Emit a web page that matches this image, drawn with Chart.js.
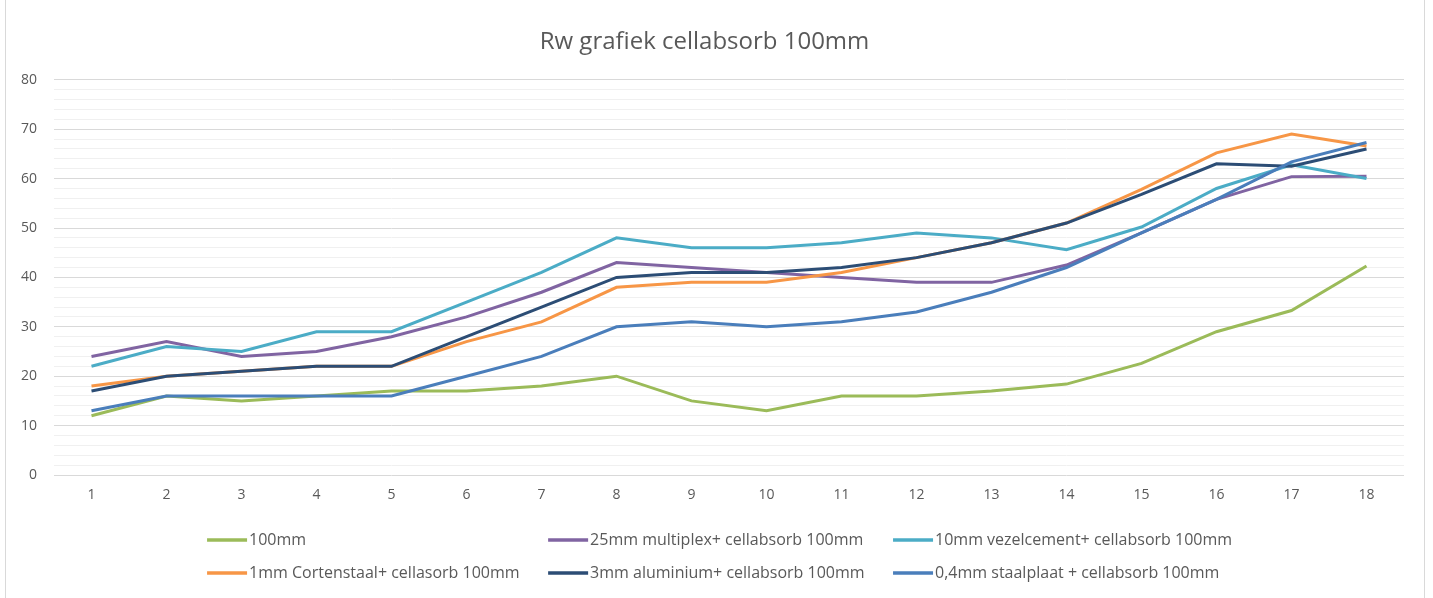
<!DOCTYPE html>
<html>
<head>
<meta charset="utf-8">
<script src="https://cdn.jsdelivr.net/npm/chart.js@4"></script>
<style>
  html, body { margin: 0; padding: 0; background: #fff; }
  #wrap { position: relative; width: 1433px; height: 598px; }
  #wrap:before, #wrap:after { content: ''; position: absolute; top: 0; bottom: 0; width: 1px; background: #d9d9d9; }
  #wrap:before { left: 5px; }
  #wrap:after { left: 1424px; }
</style>
</head>
<body>
<div id="wrap"><canvas id="myChart" width="1433" height="598"></canvas></div>
<script>
const categories = ['1','2','3','4','5','6','7','8','9','10','11','12','13','14','15','16','17','18'];

const s100mm      = [12, 16, 15, 16, 17, 17, 18, 20, 15, 13, 16, 16, 17, 18.4, 22.6, 29, 33.3, 42.3];
const sMultiplex  = [24, 27, 24, 25, 28, 32, 37, 43, 42, 41, 40, 39, 39, 42.5, 49, 55.8, 60.4, 60.5];
const sVezel      = [22, 26, 25, 29, 29, 35, 41, 48, 46, 46, 47, 49, 48, 45.6, 50.2, 58, 62.8, 60];
const sCorten     = [18, 20, 21, 22, 22, 27, 31, 38, 39, 39, 41, 44, 47, 51, 57.8, 65.2, 69, 66.6];
const sAluminium  = [17, 20, 21, 22, 22, 28, 34, 40, 41, 41, 42, 44, 47, 51, 56.8, 63, 62.5, 66];
const sStaalplaat = [13, 16, 16, 16, 16, 20, 24, 30, 31, 30, 31, 33, 37, 42, 49, 55.8, 63.4, 67.3];

const seriesNames = [
    '100mm',
    '25mm multiplex+ cellabsorb 100mm',
    '10mm vezelcement+ cellabsorb 100mm',
    '1mm Cortenstaal+ cellasorb 100mm',
    '3mm aluminium+ cellabsorb 100mm',
    '0,4mm staalplaat + cellabsorb 100mm'
];
const seriesColors = ['#9BBB59', '#8064A2', '#4BACC6', '#F79646', '#2C4D75', '#4A7EBB'];
const seriesData = [s100mm, sMultiplex, sVezel, sCorten, sAluminium, sStaalplaat];

const yTicks = [0, 10, 20, 30, 40, 50, 60, 70, 80];

const FONT = "'Open Sans', Lato, sans-serif";
const TEXT = '#595959';

// Excel-style legend: 3 columns, 2 rows under the plot
const gridLegend = {
    id: 'gridLegend',
    afterDraw(chart) {
        const ctx = chart.ctx;
        const cols = [0.1445, 0.3825, 0.6232];
        const rows = [chart.height - 58, chart.height - 25];
        ctx.save();
        ctx.font = '16px ' + FONT;
        ctx.textBaseline = 'middle';
        ctx.fillStyle = TEXT;
        chart.data.datasets.forEach((ds, i) => {
            const x = cols[i % 3] * chart.width;
            const y = rows[Math.floor(i / 3)];
            ctx.strokeStyle = ds.borderColor;
            ctx.lineWidth = 3.5;
            ctx.beginPath();
            ctx.moveTo(x, y);
            ctx.lineTo(x + 40, y);
            ctx.stroke();
            ctx.fillText(ds.label, x + 42, y);
        });
        ctx.restore();
    }
};

new Chart('myChart', {
    type: 'line',
    data: {
        labels: categories,
        datasets: seriesData.map((d, i) => ({
            label: seriesNames[i],
            data: d,
            borderColor: seriesColors[i],
            backgroundColor: seriesColors[i],
            borderWidth: 3,
            pointRadius: 0,
            tension: 0,
            order: seriesData.length - i
        }))
    },
    options: {
        responsive: false,
        animation: false,
        layout: { padding: { left: 5, right: 29, top: 0, bottom: 85 } },
        plugins: {
            legend: { display: false },
            tooltip: { enabled: false },
            title: {
                display: true,
                text: 'Rw grafiek cellabsorb 100mm',
                color: TEXT,
                font: { family: FONT, size: 24, weight: 'normal' },
                padding: { top: 28, bottom: 23 }
            }
        },
        scales: {
            x: {
                offset: true,
                grid: { display: false, drawTicks: false },
                border: { display: false },
                ticks: { color: TEXT, font: { family: FONT, size: 14 }, padding: 12 },
                afterFit(s) { s.height = 38; }
            },
            y: {
                min: yTicks[0],
                max: yTicks[yTicks.length - 1],
                border: { display: false },
                grid: {
                    drawTicks: false,
                    color: c => (c.tick.value % 10 === 0 ? '#d9d9d9' : '#f0f0f0'),
                    lineWidth: 1
                },
                ticks: {
                    stepSize: 2,
                    maxTicksLimit: 100,
                    autoSkip: false,
                    color: TEXT,
                    font: { family: FONT, size: 14 },
                    padding: 17,
                    callback: v => (yTicks.includes(v) ? String(v) : '')
                },
                afterFit(s) { s.width = 49; }
            }
        }
    },
    plugins: [gridLegend]
});
</script>
</body>
</html>
